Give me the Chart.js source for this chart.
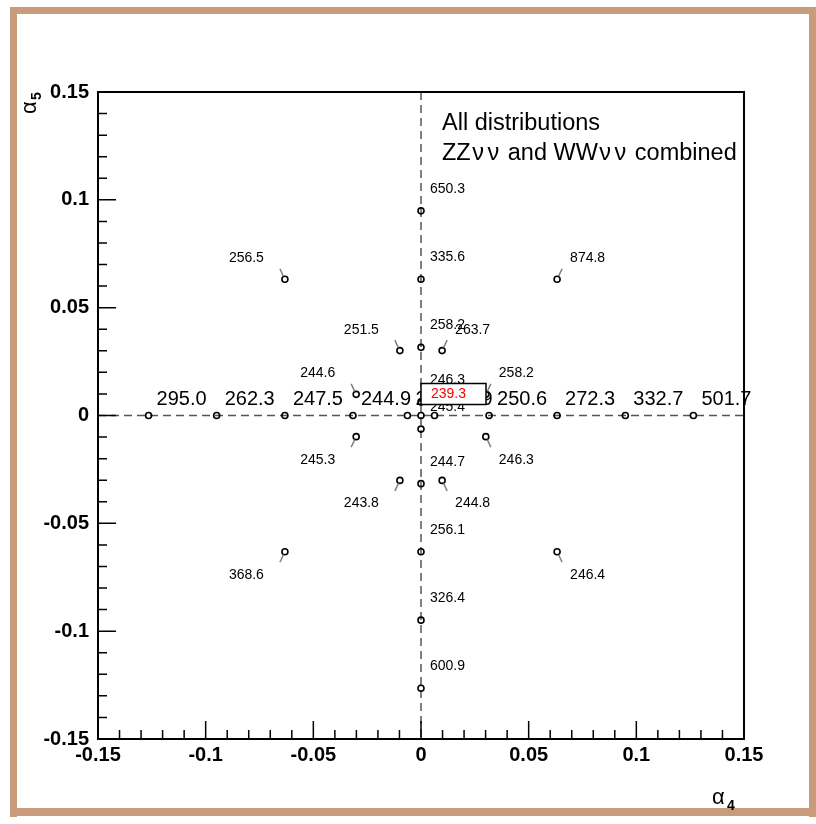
<!DOCTYPE html>
<html>
<head>
<meta charset="utf-8">
<script src="https://cdn.jsdelivr.net/npm/chart.js@4.4.1/dist/chart.umd.min.js"></script>
<style>
  html, body { margin: 0; padding: 0; background: #fff; }
  #wrap { position: relative; width: 816px; height: 824px; }
</style>
</head>
<body>
<div id="wrap"><canvas id="scan" width="816" height="824"></canvas></div>
<script>
// Scan points in the (alpha4, alpha5) plane and the fit value at each point
const alpha4 = [
  -0.1265, -0.0949, -0.0632, -0.0316, -0.0063, 0.0063, 0.0316, 0.0632, 0.0949, 0.1265,
  0, 0, 0, 0, 0, 0, 0, 0, 0,
  -0.0632, 0.0632, -0.0632, 0.0632,
  -0.0098, 0.0098, -0.0301, 0.0301, -0.0301, 0.0301, -0.0098, 0.0098,
  0
];
const alpha5 = [
  0, 0, 0, 0, 0, 0, 0, 0, 0, 0,
  0.0949, 0.0632, 0.0316, 0.0063, -0.0063, -0.0316, -0.0632, -0.0949, -0.1265,
  0.0632, 0.0632, -0.0632, -0.0632,
  0.0301, 0.0301, 0.0098, 0.0098, -0.0098, -0.0098, -0.0301, -0.0301,
  0
];
const fitValue = [
  295.0, 262.3, 247.5, 244.9, 241.7, 240.9, 250.6, 272.3, 332.7, 501.7,
  650.3, 335.6, 258.2, 246.3, 245.4, 244.7, 256.1, 326.4, 600.9,
  256.5, 874.8, 368.6, 246.4,
  251.5, 263.7, 244.6, 258.2, 245.3, 246.3, 243.8, 244.8,
  239.3
];

const xTickValues = [-0.15, -0.1, -0.05, 0, 0.05, 0.1, 0.15];
const xTickLabels = ['-0.15', '-0.1', '-0.05', '0', '0.05', '0.1', '0.15'];
const yTickValues = [-0.15, -0.1, -0.05, 0, 0.05, 0.1, 0.15];
const yTickLabels = ['-0.15', '-0.1', '-0.05', '0', '0.05', '0.1', '0.15'];
const infoLines = ['All distributions', 'ZZ\u03bd\u03bd and WW\u03bd\u03bd combined'];

const FONT = '"Liberation Sans", Arial, Helvetica, sans-serif';
const TAN = '#C99B7D';

function labelFor(list, values, v) {
  let best = 0;
  values.forEach((t, i) => { if (Math.abs(t - v) < Math.abs(values[best] - v)) best = i; });
  return list[best];
}

// Draws a line of text; Greek nu glyphs get a slightly wider advance
function drawInfoLine(ctx, text, x0, base) {
  let cx = x0;
  for (const ch of text) {
    const w = ctx.measureText(ch).width;
    if (ch === '\u03bd') {
      ctx.fillText(ch, cx + 1.5, base);
      cx += w + 3.5;
    } else {
      ctx.fillText(ch, cx, base);
      cx += w;
    }
  }
}

const decor = {
  id: 'decor',
  beforeDraw(chart) {
    const ctx = chart.ctx;
    ctx.save();
    ctx.fillStyle = '#fff';
    ctx.fillRect(0, 0, chart.width, chart.height);
    // page frame
    ctx.fillStyle = TAN;
    ctx.fillRect(10, 7, 806, 7);
    ctx.fillRect(10, 7, 7, 810);
    ctx.fillRect(10, 808, 806, 8);
    ctx.fillRect(809, 7, 7, 810);
    ctx.restore();
  },
  beforeDatasetsDraw(chart) {
    const { ctx, chartArea: a, scales: { x, y } } = chart;
    const x0 = x.getPixelForValue(0), y0 = y.getPixelForValue(0);
    ctx.save();
    ctx.strokeStyle = '#555';
    ctx.lineWidth = 1.5;
    ctx.setLineDash([8, 5]);
    ctx.beginPath();
    ctx.moveTo(x0, a.top); ctx.lineTo(x0, a.bottom);
    ctx.moveTo(a.left, y0); ctx.lineTo(a.right, y0);
    ctx.stroke();
    ctx.restore();
  },
  afterDatasetsDraw(chart) {
    const { ctx, chartArea: a, scales: { x, y } } = chart;
    const pts = chart.getDatasetMeta(0).data;
    ctx.save();
    ctx.fillStyle = '#000';
    ctx.textAlign = 'left';
    ctx.textBaseline = 'alphabetic';
    let boxed = -1;
    pts.forEach((p, i) => {
      const vx = alpha4[i], vy = alpha5[i];
      const txt = fitValue[i].toFixed(1);
      if (vx === 0 && vy === 0) { boxed = i; return; }
      if (vy === 0) {
        ctx.font = '20px ' + FONT;
        ctx.textAlign = 'left';
        ctx.fillText(txt, p.x + 8, p.y - 18 + 7);
      } else if (vx === 0) {
        ctx.font = '14px ' + FONT;
        ctx.textAlign = 'left';
        ctx.fillText(txt, p.x + 9, p.y - 23 + 5);
      } else {
        const sx = Math.sign(vx), sy = Math.sign(vy);
        ctx.strokeStyle = '#808080';
        ctx.lineWidth = 1.5;
        ctx.beginPath();
        ctx.moveTo(p.x + sx * 1.5, p.y - sy * 3);
        ctx.lineTo(p.x + sx * 5, p.y - sy * 10.5);
        ctx.stroke();
        ctx.font = '14px ' + FONT;
        ctx.textAlign = sx < 0 ? 'right' : 'left';
        ctx.fillText(txt, p.x + (sx < 0 ? -21 : 13), p.y - sy * 22 + 5);
      }
    });
    if (boxed >= 0) {
      const p = pts[boxed];
      ctx.fillStyle = '#fff';
      ctx.fillRect(p.x, p.y - 32, 65, 21);
      ctx.strokeStyle = '#000';
      ctx.lineWidth = 1.5;
      ctx.strokeRect(p.x, p.y - 32, 65, 21);
      ctx.fillStyle = '#ff0000';
      ctx.font = '14px ' + FONT;
      ctx.textAlign = 'left';
      ctx.fillText(fitValue[boxed].toFixed(1), p.x + 10, p.y - 23 + 5);
    }

    // plot frame
    ctx.strokeStyle = '#000';
    ctx.lineWidth = 2;
    ctx.strokeRect(a.left, a.top, a.right - a.left, a.bottom - a.top);

    // axis ticks (major every 0.05, minor every 0.01)
    ctx.lineWidth = 1.5;
    ctx.beginPath();
    for (let k = -15; k <= 15; k++) {
      const v = k / 100;
      const major = k % 5 === 0;
      const len = major ? 18 : 9;
      const px = x.getPixelForValue(v);
      ctx.moveTo(px, a.bottom); ctx.lineTo(px, a.bottom - len);
      const py = y.getPixelForValue(v);
      ctx.moveTo(a.left, py); ctx.lineTo(a.left + len, py);
    }
    ctx.stroke();

    // info text
    ctx.fillStyle = '#000';
    ctx.font = '23.5px ' + FONT;
    ctx.textAlign = 'left';
    drawInfoLine(ctx, infoLines[0], 442, 130);
    drawInfoLine(ctx, infoLines[1], 442, 160);

    // axis titles
    ctx.font = '22px ' + FONT;
    ctx.fillText('\u03b1', 712, 804);
    ctx.font = 'bold 14px ' + FONT;
    ctx.fillText('4', 727, 810);

    ctx.translate(36, 114);
    ctx.rotate(-Math.PI / 2);
    ctx.font = '22px ' + FONT;
    ctx.fillText('\u03b1', 0, 0);
    ctx.font = 'bold 14px ' + FONT;
    ctx.fillText('5', 14, 5);
    ctx.restore();
  }
};

function zeroPadding(scale) {
  scale.paddingLeft = 0; scale.paddingRight = 0;
  scale.paddingTop = 0; scale.paddingBottom = 0;
}

new Chart(document.getElementById('scan'), {
  type: 'scatter',
  data: {
    datasets: [{
      data: alpha4.map((v, i) => ({ x: v, y: alpha5[i] })),
      pointRadius: 3,
      pointHoverRadius: 3,
      pointBorderWidth: 1.6,
      pointBorderColor: '#000',
      pointBackgroundColor: 'rgba(255,255,255,0)'
    }]
  },
  options: {
    responsive: false,
    devicePixelRatio: 1,
    animation: false,
    events: [],
    layout: { padding: { left: 0, top: 92, right: 72, bottom: 0 } },
    plugins: { legend: { display: false }, tooltip: { enabled: false } },
    scales: {
      x: {
        type: 'linear', min: -0.15, max: 0.15,
        afterBuildTicks(s) { s.ticks = xTickValues.map(v => ({ value: v })); },
        afterFit(s) { s.height = 85; zeroPadding(s); },
        ticks: {
          callback: v => labelFor(xTickLabels, xTickValues, v),
          font: { family: FONT, size: 20, weight: 'bold' },
          color: '#000', padding: 4, maxRotation: 0, autoSkip: false
        },
        grid: { display: false, drawTicks: false },
        border: { display: false }
      },
      y: {
        type: 'linear', min: -0.15, max: 0.15,
        afterBuildTicks(s) { s.ticks = yTickValues.map(v => ({ value: v })); },
        afterFit(s) { s.width = 98; zeroPadding(s); },
        ticks: {
          callback: v => labelFor(yTickLabels, yTickValues, v),
          font: { family: FONT, size: 20, weight: 'bold' },
          color: '#000', padding: 9, autoSkip: false
        },
        grid: { display: false, drawTicks: false },
        border: { display: false }
      }
    }
  },
  plugins: [decor]
});
</script>
</body>
</html>
